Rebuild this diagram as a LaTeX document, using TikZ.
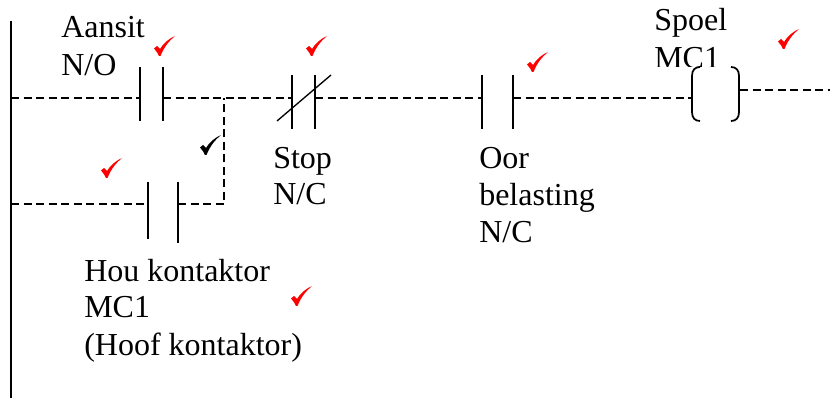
\documentclass[tikz,border=0pt]{standalone}
\usepackage{fontspec}
\setmainfont{Liberation Serif}
\tikzset{
  wire/.style={line width=0.9pt,dash pattern=on 6pt off 3.4pt},
  bar/.style={line width=1.15pt},
  lbl/.style={anchor=base west,inner sep=0pt,font=\fontsize{24pt}{28pt}\selectfont},
  tick/.pic={\fill[pic actions] (0,12.5) -- (3,10) -- (6,13) .. controls (9,8) and (14,3) .. (21,0) .. controls (15,5) and (10,11) .. (6.5,20) -- (5,20) .. controls (4,17) and (2,15) .. (0,12.5) -- cycle;}
}
\begin{document}
\begin{tikzpicture}[x=0.75pt,y=-0.75pt]
\useasboundingbox (0,0) rectangle (830,398);
% labels
\node[lbl] (t1) at (61,38) {Aansit};
\node[lbl] (t2) at (61,76) {N/O};
\node[lbl] (t3) at (273,169) {Stop};
\node[lbl] (t4) at (273,205) {N/C};
\node[lbl] (t5) at (479,169) {Oor};
\node[lbl] (t6) at (479,206) {belasting};
\node[lbl] (t7) at (479,243) {N/C};
\node[lbl] (t8) at (654,31) {Spoel};
\node[lbl] (t9) at (654,69) {MC1};
\node[lbl] (t10) at (84,282) {Hou kontaktor};
\node[lbl] (t11) at (84,318) {MC1};
\node[lbl] (t12) at (84,355) {(Hoof kontaktor)};
\fill[white] (640,67) rectangle (760,85);
\coordinate (railtop) at (11,21);
\coordinate (railbot) at (11,398);
\draw[line width=1.15pt] (railtop) -- (railbot);
% wires
\coordinate (r1) at (11,98);
\coordinate (r2) at (11,204);
\coordinate (a1) at (140,98); \coordinate (a2) at (163,98);
\coordinate (j) at (224,98);
\coordinate (j2) at (224,204);
\coordinate (s1) at (292,98); \coordinate (s2) at (315,98);
\coordinate (o1) at (482,98); \coordinate (o2) at (513,98);
\coordinate (c1) at (692,98); \coordinate (c2) at (740,90);
\coordinate (cend) at (830,90);
\coordinate (h1) at (148,204); \coordinate (h2) at (178,204);
\draw[wire] (r1) -- (a1);
\draw[wire] (a2) -- (j) -- (s1);
\draw[wire] (s2) -- (o1);
\draw[wire] (o2) -- (c1);
\draw[wire] (c2) -- (cend);
\draw[wire] (r2) -- (h1);
\draw[wire] (h2) -- (j2) -- (j);
% contacts
\draw[bar] (140,67) -- (140,121);
\draw[bar] (163,67) -- (163,121);
\draw[bar] (292,75) -- (292,129);
\draw[bar] (315,75) -- (315,129);
\draw[line width=1pt] (277,121) -- (331,75);
\draw[bar] (482,75) -- (482,129);
\draw[bar] (513,75) -- (513,129);
\draw[bar] (148,182) -- (148,239);
\draw[bar] (178,182) -- (178,243);
% coil
\draw[line width=1.3pt] (700,67) .. controls (695,67) and (692,70) .. (692,76) -- (692,112) .. controls (692,118) and (695,121) .. (700,121);
\draw[line width=1.3pt] (731,67) .. controls (736,67) and (739,70) .. (739,76) -- (739,112) .. controls (739,118) and (736,121) .. (731,121);
% ticks
\path[red] (154,36) pic {tick};
\path[red] (306,36) pic {tick};
\path[red] (527,52) pic {tick};
\path[red] (778,29) pic {tick};
\path[red] (101,158) pic {tick};
\path[red] (291,286) pic {tick};
\path[black] (200,135) pic {tick};
\end{tikzpicture}
\end{document}
